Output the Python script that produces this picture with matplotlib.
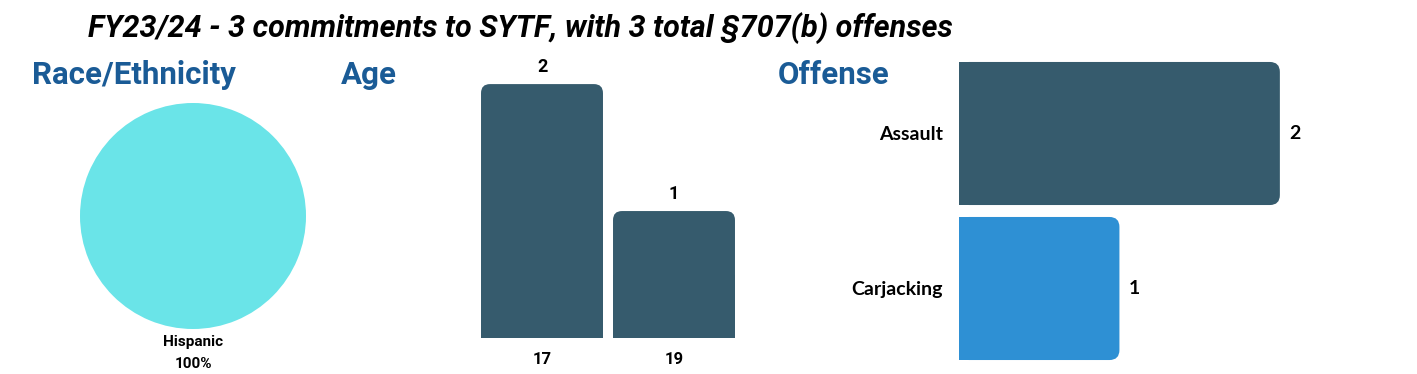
import numpy as np
import matplotlib
matplotlib.use("Agg")
import matplotlib.pyplot as plt
from matplotlib.patches import FancyBboxPatch, Rectangle

# ── data ───────────────────────────────────────────────────────────────────
title = "FY23/24 - 3 commitments to SYTF, with 3 total §707(b) offenses"

race_labels = ["Hispanic"]
race_shares = [100]

age_labels = ["17", "19"]
age_counts = [2, 1]

offense_labels = ["Assault", "Carjacking"]
offense_counts = [2, 1]

# ── style ──────────────────────────────────────────────────────────────────
W, H = 1417, 374
DARK = "#365b6d"
BLUE = "#2e90d4"
CYAN = "#6ae4e8"
HEAD = "#1a5b96"


def px_axes(fig, x0, y0, x1, y1):
    """Axes from pixel box (top-left origin)."""
    return fig.add_axes([x0 / W, 1 - y1 / H, (x1 - x0) / W, (y1 - y0) / H])


def rounded(ax, patch, r_px, vertical=True):
    """Replace a bar patch with one rounded at its free end."""
    x, y = patch.get_x(), patch.get_y()
    w, h = patch.get_width(), patch.get_height()
    fc = patch.get_facecolor()
    patch.set_visible(False)
    bb = ax.get_window_extent()
    x0, x1 = ax.get_xlim()
    y0, y1 = ax.get_ylim()
    dx = abs(x1 - x0) / bb.width
    dy = abs(y1 - y0) / bb.height
    rad = r_px * dx
    ax.add_patch(FancyBboxPatch((x + rad, y + r_px * dy), w - 2 * rad, h - 2 * r_px * dy,
                                boxstyle=f"round,pad={rad}", mutation_aspect=dy / dx,
                                fc=fc, ec="none"))
    if vertical:
        ax.add_patch(Rectangle((x, y), w, h / 2, fc=fc, ec="none"))
    else:
        ax.add_patch(Rectangle((x, y), w / 2, h, fc=fc, ec="none"))


fig = plt.figure(figsize=(W / 100, H / 100), dpi=100)

fig.text(88 / W, 1 - 28 / H, title, fontsize=22, fontweight="bold", fontstyle="italic",
         family="Roboto", ha="left", va="center", color="black")

for txt, x in [("Race/Ethnicity", 32), ("Age", 341), ("Offense", 778)]:
    fig.text(x / W, 1 - 75 / H, txt, fontsize=22.5, fontweight="bold", family="Roboto",
             color=HEAD, ha="left", va="center")

# ── pie ────────────────────────────────────────────────────────────────────
ax_pie = px_axes(fig, 80, 103, 306, 329)
ax_pie.pie(race_shares, colors=[CYAN], startangle=90, radius=1,
           wedgeprops=dict(linewidth=0))
ax_pie.set_xlim(-1, 1); ax_pie.set_ylim(-1, 1)
for lab, val in zip(race_labels, race_shares):
    fig.text(193 / W, 1 - 342 / H, lab, fontsize=11, fontweight="bold", family="Roboto",
             ha="center", va="center")
    fig.text(193 / W, 1 - 364 / H, f"{val}%", fontsize=11, fontweight="bold", family="Roboto",
             ha="center", va="center")

# ── age bars ───────────────────────────────────────────────────────────────
ax_age = px_axes(fig, 476, 46, 740, 338)
xs = np.arange(len(age_labels))
bars = ax_age.bar(xs, age_counts, width=0.924, color=DARK)
ax_age.set_xlim(-0.5, 1.5); ax_age.set_ylim(0, 2.3)
ax_age.set_xticks(xs, age_labels)
ax_age.tick_params(length=0, pad=10, labelsize=12)
for t in ax_age.get_xticklabels():
    t.set_fontweight("bold"); t.set_family("Roboto")
ax_age.set_yticks([])
for s in ax_age.spines.values():
    s.set_visible(False)
for b, v in zip(bars, age_counts):
    rounded(ax_age, b, 9, vertical=True)
    ax_age.text(b.get_x() + b.get_width() / 2, v + 0.06, str(v), ha="center", va="bottom",
                fontsize=13, fontweight="bold", family="Roboto")

# ── offense bars ───────────────────────────────────────────────────────────
ax_off = px_axes(fig, 959, 56, 1328, 366)
ys = np.arange(len(offense_labels))
hbars = ax_off.barh(ys, offense_counts, height=0.923, color=[DARK, BLUE])
ax_off.set_xlim(0, 2.3); ax_off.set_ylim(1.5, -0.5)
ax_off.set_yticks(ys, offense_labels)
ax_off.tick_params(length=0, pad=11.5, labelsize=14)
for t in ax_off.get_yticklabels():
    t.set_fontweight("bold"); t.set_family("Lato")
ax_off.set_xticks([])
for s in ax_off.spines.values():
    s.set_visible(False)
for b, v in zip(hbars, offense_counts):
    rounded(ax_off, b, 10, vertical=False)
    ax_off.text(v + 0.06, b.get_y() + b.get_height() / 2, str(v), ha="left", va="center",
                fontsize=14, fontweight="bold", family="Lato")

fig.savefig("out.png", dpi=100)
